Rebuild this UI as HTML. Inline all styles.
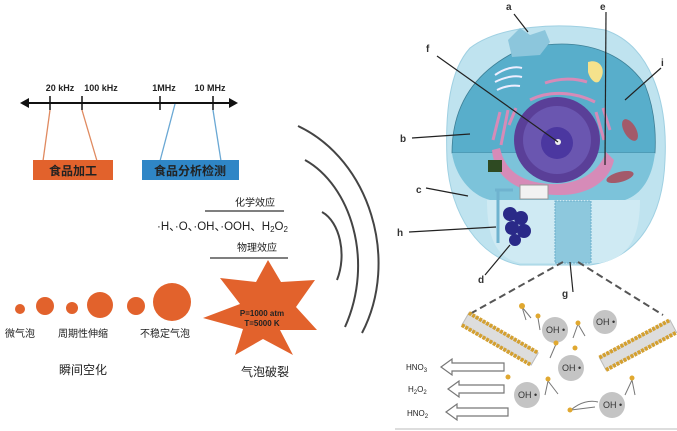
<!DOCTYPE html>
<html><head><meta charset="utf-8"><style>
html,body{margin:0;padding:0;background:#fff;}
svg{display:block;}
text{font-family:"Liberation Sans","Noto Sans CJK SC",sans-serif;}
</style></head><body>
<svg width="677" height="431" viewBox="0 0 677 431" xmlns="http://www.w3.org/2000/svg">
<!-- frequency axis -->
<line x1="26" y1="103" x2="232" y2="103" stroke="#111" stroke-width="2"/>
<polygon points="20,103 29,98 29,108" fill="#111"/>
<polygon points="238,103 229,98 229,108" fill="#111"/>
<g stroke="#111" stroke-width="1.5">
<line x1="50" y1="96" x2="50" y2="110"/><line x1="82" y1="96" x2="82" y2="110"/>
<line x1="160" y1="96" x2="160" y2="110"/><line x1="213" y1="96" x2="213" y2="110"/>
</g>
<g font-size="9" fill="#222" text-anchor="middle" font-weight="bold">
<text x="60" y="91">20 kHz</text><text x="101" y="91">100 kHz</text>
<text x="164" y="91">1MHz</text><text x="210" y="91">10 MHz</text>
</g>
<g stroke="#e08a60" stroke-width="1.3"><line x1="50" y1="110" x2="43" y2="161"/><line x1="82" y1="110" x2="97" y2="161"/></g>
<g stroke="#6aa8d4" stroke-width="1.3"><line x1="175" y1="104" x2="160" y2="161"/><line x1="213" y1="110" x2="221" y2="161"/></g>
<rect x="33" y="160" width="80" height="20" fill="#e2622c"/>
<rect x="142" y="160" width="97" height="20" fill="#2f86c6"/>
<text x="73" y="175" font-size="12" fill="#222" text-anchor="middle" font-weight="bold">食品加工</text>
<text x="190" y="175" font-size="12" fill="#222" text-anchor="middle" font-weight="bold">食品分析检测</text>
<!-- arcs -->
<g fill="none" stroke="#444" stroke-width="2">
<path d="M322,212 C340,222 347,255 337,280"/>
<path d="M305,160 C350,185 375,260 345,327"/>
<path d="M298,126 C370,160 400,260 362,333"/>
</g>
<!-- effects -->
<text x="255" y="206" font-size="10" fill="#222" text-anchor="middle">化学效应</text>
<line x1="205" y1="211" x2="284" y2="211" stroke="#333" stroke-width="1.3"/>
<text x="157" y="230" font-size="11.5" fill="#222">·H、·O、·OH、·OOH、H<tspan font-size="8" dy="2">2</tspan><tspan dy="-2">O</tspan><tspan font-size="8" dy="2">2</tspan></text>
<text x="257" y="251" font-size="10" fill="#222" text-anchor="middle">物理效应</text>
<line x1="210" y1="258" x2="288" y2="258" stroke="#333" stroke-width="1.3"/>
<polygon points="268,260 281,282 315,280 296,307 317,330 280,330 293,355 263,339 235,355 243,329 203,318 240,304 220,278 256,282" fill="#e2622c"/>
<text x="262" y="316" font-size="8" font-weight="bold" fill="#222" text-anchor="middle">P=1000 atm</text>
<text x="262" y="326" font-size="8" font-weight="bold" fill="#222" text-anchor="middle">T=5000 K</text>
<text x="265" y="376" font-size="12" fill="#222" text-anchor="middle">气泡破裂</text>
<!-- bubbles -->
<g fill="#e2622c">
<circle cx="20" cy="309" r="5"/><circle cx="45" cy="306" r="9"/><circle cx="72" cy="308" r="6"/>
<circle cx="100" cy="305" r="13"/><circle cx="136" cy="306" r="9"/><circle cx="172" cy="302" r="19"/>
</g>
<g font-size="10" fill="#222">
<text x="5" y="337">微气泡</text><text x="58" y="337">周期性伸缩</text><text x="140" y="337">不稳定气泡</text>
</g>
<text x="83" y="374" font-size="12" fill="#222" text-anchor="middle">瞬间空化</text>
<!-- cell -->
<path d="M470,48 C500,25 560,22 605,30 C650,45 668,100 665,160 C663,215 640,258 590,265 L520,265 C480,258 450,215 447,160 C445,110 450,70 470,48 Z" fill="#bfe3ef" stroke="#9fd0e2"/>
<path d="M452,153 C452,110 470,75 515,52 L545,45 C590,40 625,55 645,85 C655,110 656,135 655,153 Z" fill="#58aecb" stroke="#3d7f96" stroke-width="0.8"/>
<path d="M452,153 L655,153 C652,180 640,195 625,200 L490,200 C470,195 455,175 452,153 Z" fill="#7cc3da"/>
<path d="M487,200 L640,200 C640,235 630,258 600,263 L520,263 C495,258 487,235 487,200 Z" fill="#cfeaf3"/>
<path d="M508,40 L520,28 L530,35 L545,30 L550,42 L540,55 L512,57 Z" fill="#8cc6dc"/>
<!-- ER pink -->
<path d="M492,150 C495,185 530,195 560,195 C590,195 610,180 614,160 L606,152 C598,175 575,185 550,184 C520,182 505,170 500,148 Z" fill="#d68bb8"/>
<g stroke="#d68bb8" stroke-width="3" fill="none">
<path d="M493,140 L500,112 M501,145 L508,110 M509,125 L516,108 M596,112 L604,140 M603,108 L610,130"/>
<path d="M530,100 C550,90 575,92 595,102"/><path d="M545,83 C560,78 575,78 587,82"/>
</g>
<circle cx="557" cy="140" r="43" fill="#5a3f98"/>
<circle cx="557" cy="140" r="34" fill="#6a56b0"/>
<circle cx="557" cy="143" r="16" fill="#4b37a0"/>
<circle cx="558" cy="142" r="3" fill="#eee"/>
<path d="M588,62 C600,58 607,70 600,80 C597,86 590,80 588,72 Z" fill="#f5e28c"/>
<ellipse cx="630" cy="130" rx="6" ry="12" transform="rotate(-30 630 130)" fill="#a35a6a"/>
<ellipse cx="620" cy="177" rx="14" ry="5" transform="rotate(-15 620 177)" fill="#a35a6a"/>
<g stroke="#eef" stroke-width="2" fill="none"><path d="M495,75 C505,68 515,66 522,68"/><path d="M495,82 C505,77 515,75 522,77"/><path d="M497,90 C505,86 513,85 520,86"/></g>
<rect x="488" y="160" width="14" height="12" fill="#2e4a22"/>
<rect x="520" y="185" width="28" height="14" fill="#f2f2f2" stroke="#999"/>
<path d="M495,190 L513,190 M498,190 L498,243" stroke="#6fb3cf" stroke-width="3" fill="none"/>
<g fill="#2a2a88"><circle cx="510" cy="214" r="7"/><circle cx="521" cy="218" r="7"/><circle cx="512" cy="228" r="7"/><circle cx="524" cy="231" r="7"/><circle cx="515" cy="240" r="6"/></g>
<rect x="555" y="201" width="36" height="62" fill="#8dc8dd" stroke="#6aaecb" stroke-dasharray="2 1"/>
<!-- cell labels -->
<g font-size="10" font-weight="bold" fill="#333">
<text x="506" y="10">a</text><text x="600" y="10">e</text><text x="426" y="52">f</text><text x="661" y="66">i</text>
<text x="400" y="142">b</text><text x="416" y="193">c</text><text x="397" y="236">h</text><text x="478" y="283">d</text><text x="562" y="297">g</text>
</g>
<g stroke="#222" stroke-width="1.2">
<line x1="514" y1="14" x2="528" y2="32"/><line x1="606" y1="12" x2="605" y2="165"/>
<line x1="437" y1="56" x2="558" y2="142"/><line x1="661" y1="68" x2="625" y2="100"/>
<line x1="412" y1="138" x2="470" y2="134"/><line x1="426" y1="188" x2="468" y2="196"/>
<line x1="409" y1="232" x2="496" y2="227"/><line x1="485" y1="275" x2="510" y2="245"/>
<line x1="570" y1="262" x2="573" y2="292"/>
</g>
<g stroke="#555" stroke-width="2" stroke-dasharray="7 4">
<line x1="563" y1="262" x2="468" y2="315"/><line x1="578" y1="262" x2="663" y2="315"/>
</g>
<!-- membranes -->
<g transform="translate(500,339) rotate(30)">
<rect x="-40" y="-7" width="80" height="14" fill="#ddd" stroke="#bbb"/>
<line x1="-40" y1="-7" x2="40" y2="-7" stroke="#d4a030" stroke-width="4" stroke-dasharray="3 1"/>
<line x1="-40" y1="7" x2="40" y2="7" stroke="#d4a030" stroke-width="4" stroke-dasharray="3 1"/>
</g>
<g transform="translate(638,345) rotate(-28)">
<rect x="-40" y="-7" width="80" height="14" fill="#ddd" stroke="#bbb"/>
<line x1="-40" y1="-7" x2="40" y2="-7" stroke="#d4a030" stroke-width="4" stroke-dasharray="3 1"/>
<line x1="-40" y1="7" x2="40" y2="7" stroke="#d4a030" stroke-width="4" stroke-dasharray="3 1"/>
</g>
<!-- OH -->
<g fill="#c4c4c4">
<circle cx="555" cy="330" r="13"/><circle cx="605" cy="322" r="12"/><circle cx="571" cy="368" r="13"/><circle cx="527" cy="395" r="13"/><circle cx="612" cy="405" r="13"/>
</g>
<g font-size="9" fill="#333">
<text x="546" y="333">OH •</text><text x="596" y="325">OH •</text><text x="562" y="371">OH •</text><text x="518" y="398">OH •</text><text x="603" y="408">OH •</text>
</g>
<g stroke="#777" stroke-width="1" fill="none">
<path d="M522,307 L526,320 M522,307 L531,318"/><path d="M538,318 L540,330"/><path d="M578,324 L573,338 M578,324 L585,336"/>
<path d="M556,344 L550,358"/><path d="M548,381 L545,395 M548,381 L558,394"/><path d="M632,380 L625,395 M632,380 L635,395"/>
<path d="M571,410 C580,402 590,400 598,402 M571,410 L595,407"/>
</g>
<g fill="#e0a830"><circle cx="522" cy="306" r="3"/><circle cx="538" cy="316" r="2.5"/><circle cx="578" cy="323" r="2.5"/><circle cx="556" cy="343" r="2.5"/><circle cx="575" cy="348" r="2.5"/><circle cx="508" cy="377" r="2.5"/><circle cx="548" cy="379" r="2.5"/><circle cx="632" cy="378" r="2.5"/><circle cx="570" cy="410" r="2.5"/></g>
<!-- arrows -->
<g fill="#fff" stroke="#777" stroke-width="1.2">
<polygon points="441,367 452,359 452,363 504,363 504,371 452,371 452,375"/>
<polygon points="448,389 459,381 459,385 504,385 504,393 459,393 459,397"/>
<polygon points="446,412 457,404 457,408 508,408 508,416 457,416 457,420"/>
</g>
<g font-size="8" fill="#222">
<text x="406" y="370">HNO<tspan font-size="6" dy="2">3</tspan></text>
<text x="408" y="392">H<tspan font-size="6" dy="2">2</tspan><tspan dy="-2">O</tspan><tspan font-size="6" dy="2">2</tspan></text>
<text x="407" y="416">HNO<tspan font-size="6" dy="2">2</tspan></text>
</g>
<line x1="395" y1="429" x2="677" y2="429" stroke="#ddd" stroke-width="2"/>
</svg>
</body></html>
